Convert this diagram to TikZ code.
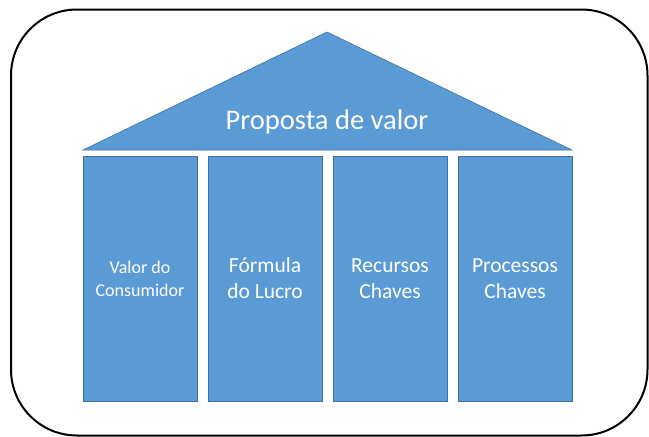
\documentclass[tikz,border=0pt]{standalone}
\usepackage{fontspec}
\setmainfont{Carlito}
\usepackage{tikz}
\definecolor{azul}{RGB}{91,155,213}
\definecolor{azulborda}{RGB}{65,113,156}
\tikzset{pilar/.style={fill=azul, draw=azulborda, line width=0.6pt, minimum width=114pt, minimum height=245pt, inner sep=2pt, text=white, align=center}}

\begin{document}
\begin{tikzpicture}[x=1pt,y=-1pt]
\useasboundingbox (0,0) rectangle (649,437);
\draw [line width=2pt, rounded corners=66pt] (11,9.5) rectangle (647.5,435.5);
% telhado
\filldraw [fill=azul, draw=azulborda, line width=0.6pt] (83,150)--(327,32)--(572,150)--cycle;
\node [anchor=base, text=white, font=\fontsize{28.5}{34}\selectfont] (telhado) at (327,129) {Proposta de valor};
% pilares
\foreach \i/\fs/\bs/\txt in {1/18/23/{Valor do\\Consumidor}, 2/21.5/26/{Fórmula\\do Lucro}, 3/21.5/26/{Recursos\\Chaves}, 4/21.5/26/{Processos\\Chaves}} {\node [pilar, font=\fontsize{\fs}{\bs}\selectfont] (pilar\i) at ({15+125*\i},278.5) {\txt};}
\end{tikzpicture}
\end{document}
